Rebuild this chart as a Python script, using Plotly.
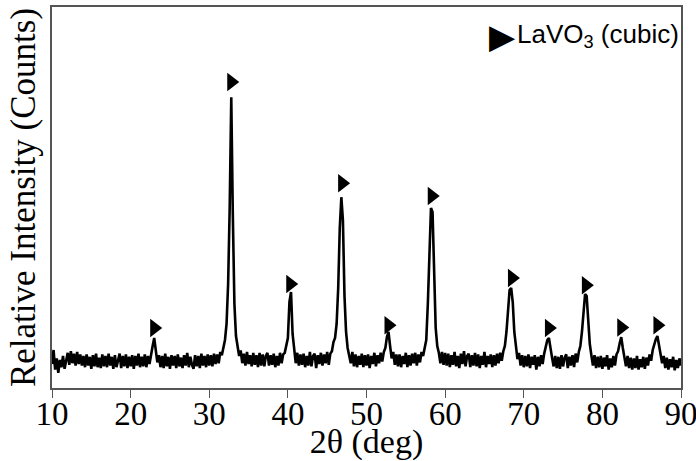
import plotly.graph_objects as go

# XRD scan: start angle, step (deg) and intensity (counts)
scan_start = 10.0
scan_step = 0.2
intensity = [
    60, 95, 46, 74, 38, 70, 52, 80, 48, 72,      # 10.0-11.8
    88, 58, 92, 62, 86, 56, 90, 60, 84, 56,      # 12.0-13.8
    80, 52, 84, 56, 78, 48, 82, 54, 86, 52,      # 14.0-15.8
    76, 50, 84, 54, 80, 52, 86, 56, 78, 48,      # 16.0-17.8
    82, 52, 74, 86, 50, 80, 54, 84, 50, 78,      # 18.0-19.8
    54, 82, 48, 80, 56, 86, 52, 78, 54, 84,      # 20.0-21.8
    52, 80, 60, 88, 105, 125, 92, 64, 82, 52,    # 22.0-23.8
    80, 50, 86, 54, 78, 48, 82, 56, 80, 50,      # 24.0-25.8
    84, 54, 76, 50, 82, 56, 88, 52, 78, 58,      # 26.0-27.8
    48, 82, 54, 80, 50, 86, 56, 80, 52, 84,      # 28.0-29.8
    56, 82, 54, 86, 60, 84, 62, 90, 82, 100,     # 30.0-31.8
    120, 160, 260, 450, 727, 430, 210, 130, 100, 80,  # 32.0-33.8
    94, 62, 86, 56, 90, 60, 82, 54, 88, 58,      # 34.0-35.8
    82, 52, 88, 56, 84, 54, 80, 88, 56, 82,      # 36.0-37.8
    58, 86, 52, 80, 56, 88, 62, 84, 88, 105,     # 38.0-39.8
    125, 215, 240, 135, 92, 62, 88, 56, 84, 58,  # 40.0-41.8
    86, 52, 80, 56, 90, 54, 80, 86, 50, 82,      # 42.0-43.8
    60, 88, 56, 84, 62, 90, 58, 86, 92, 115,     # 44.0-45.8
    125, 160, 250, 400, 477, 420, 230, 140, 100, 80,  # 46.0-47.8
    62, 90, 54, 84, 52, 80, 58, 86, 52, 82,      # 48.0-49.8
    56, 84, 50, 80, 60, 88, 54, 82, 62, 88,      # 50.0-51.8
    66, 90, 100, 128, 140, 105, 74, 90, 58, 84,  # 52.0-53.8
    54, 84, 52, 80, 60, 88, 52, 82, 56, 86,      # 54.0-55.8
    62, 88, 56, 84, 64, 90, 80, 100, 120, 210,   # 56.0-57.8
    360, 450, 440, 280, 150, 105, 88, 62, 90, 58,  # 58.0-59.8
    88, 56, 86, 52, 82, 58, 90, 54, 80, 50,      # 60.0-61.8
    86, 60, 92, 54, 80, 86, 52, 82, 56, 88,      # 62.0-63.8
    54, 84, 50, 80, 58, 90, 52, 80, 60, 84,      # 64.0-65.8
    52, 82, 56, 86, 62, 88, 68, 92, 105, 140,    # 66.0-67.8
    200, 245, 250, 215, 140, 100, 72, 88, 56, 82,  # 68.0-69.8
    52, 80, 54, 84, 50, 78, 58, 82, 46, 78,      # 70.0-71.8
    54, 82, 60, 86, 100, 120, 125, 96, 76, 54,   # 72.0-73.8
    80, 50, 78, 48, 82, 54, 76, 84, 50, 78,      # 74.0-75.8
    56, 82, 52, 86, 64, 90, 105, 140, 195, 235,  # 76.0-77.8
    230, 170, 110, 82, 56, 82, 50, 78, 52, 80,   # 78.0-79.8
    48, 76, 54, 82, 46, 74, 52, 80, 56, 84,      # 80.0-81.8
    92, 112, 127, 100, 76, 54, 80, 50, 76, 46,   # 82.0-83.8
    74, 50, 80, 46, 72, 52, 78, 48, 76, 56,      # 84.0-85.8
    84, 68, 95, 110, 122, 130, 108, 88, 62, 80,  # 86.0-87.8
    50, 76, 46, 72, 52, 78, 44, 70, 50, 74,      # 88.0-89.8
    56,                                          # 90.0
]
two_theta = [round(scan_start + scan_step * i, 2) for i in range(len(intensity))]

# LaVO3 (cubic) reflection markers
peak_pos = [23.0, 32.8, 40.3, 46.9, 52.8, 58.3, 68.5, 73.2, 77.9, 82.4, 87.0]
marker_level = [150, 765, 260, 512, 157, 480, 275, 150, 257, 151, 157]

x_ticks = [10, 20, 30, 40, 50, 60, 70, 80, 90]

fig = go.Figure()
fig.add_trace(go.Scatter(
    x=two_theta, y=intensity, mode="lines",
    line=dict(color="black", width=2.6), showlegend=False, hoverinfo="skip"))
fig.add_trace(go.Scatter(
    x=peak_pos, y=marker_level, mode="markers",
    marker=dict(symbol="triangle-right", size=16, color="black"),
    showlegend=False))

serif = "Liberation Serif, Times New Roman, serif"
fig.update_layout(
    width=696, height=461,
    margin=dict(l=52, r=15, t=7, b=73),
    paper_bgcolor="white", plot_bgcolor="white",
    xaxis=dict(
        range=[10, 90], tickvals=x_ticks, ticks="outside", ticklen=8,
        tickwidth=1.2, tickcolor="#555", showgrid=False, zeroline=False,
        showline=True, linecolor="#555", linewidth=1.5, mirror=True,
        automargin=False, ticklabeloverflow="allow", ticklabelstandoff=-12,
        tickfont=dict(family=serif, size=33, color="black"),
        title=dict(text="2θ (deg)", standoff=0,
                   font=dict(family=serif, size=34, color="black")),
    ),
    yaxis=dict(
        range=[0, 952.5], showticklabels=False, ticks="", showgrid=False,
        zeroline=False, showline=True, linecolor="#555", linewidth=1.5,
        mirror=True, automargin=False,
        title=dict(text="Relative Intensity (Counts)", standoff=4,
                   font=dict(family=serif, size=35, color="black")),
    ),
    annotations=[
        dict(xref="paper", yref="paper", x=1.0, y=0.924,
             xanchor="right", yanchor="middle", showarrow=False,
             text="LaVO<sub>3</sub> (cubic)",
             font=dict(family="Liberation Sans, Arial, sans-serif", size=26,
                       color="black")),
        dict(xref="paper", yref="paper", x=0.716, y=0.924,
             xanchor="center", yanchor="middle", showarrow=False,
             text="▶",
             font=dict(family="DejaVu Sans", size=34, color="black")),
    ],
)

fig.write_html("out.html")
